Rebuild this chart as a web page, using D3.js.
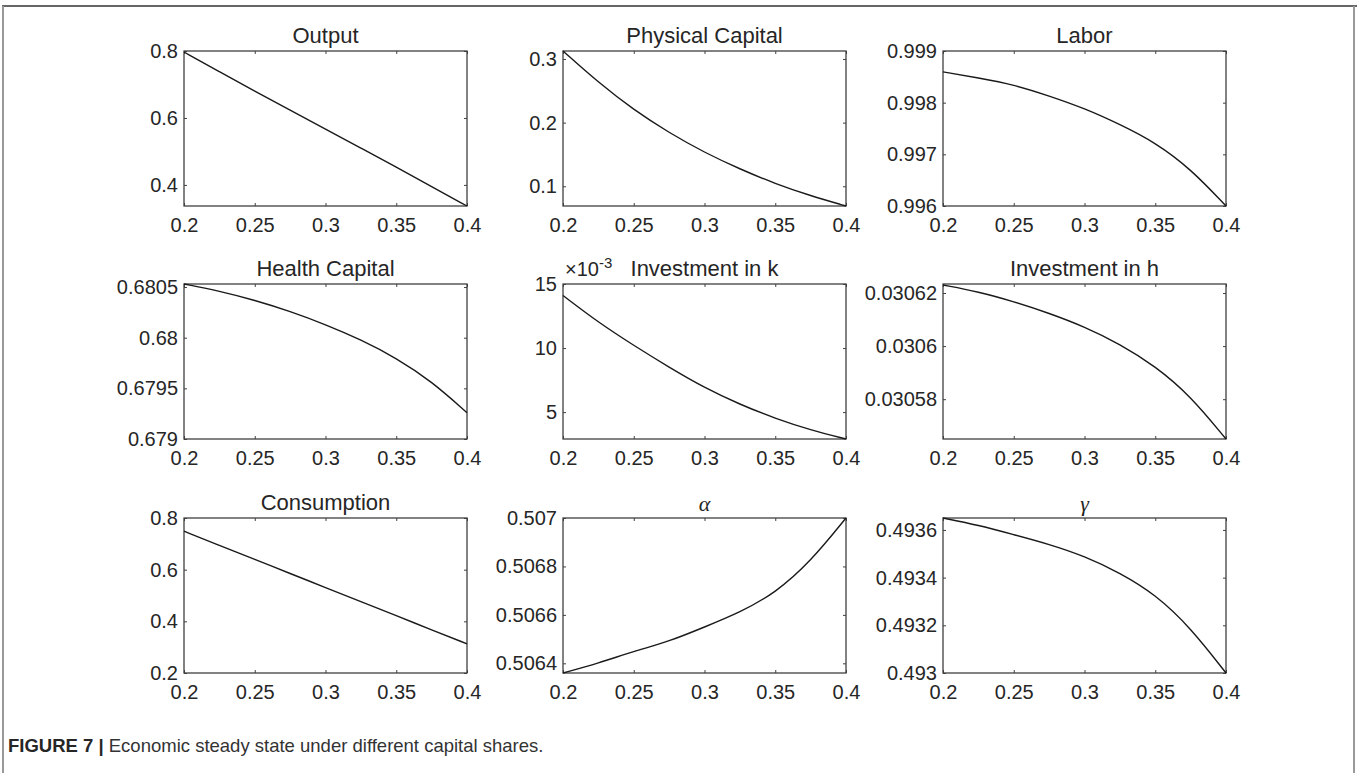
<!DOCTYPE html>
<meta charset="utf-8">
<script src="https://cdn.jsdelivr.net/npm/d3@7"></script>
<style>
  body { margin: 0; background: #fff; }
  text { font-family: "Liberation Sans", Arial, sans-serif; fill: #262626; }
</style>
<body>
<script>
// x values shared by every panel (capital share)
var xs = [0.2, 0.225, 0.25, 0.275, 0.3, 0.325, 0.35, 0.375, 0.4];
var xTicks = [0.2, 0.25, 0.3, 0.35, 0.4];
var xLabels = ["0.2", "0.25", "0.3", "0.35", "0.4"];

var titles = ["Output", "Physical Capital", "Labor", "Health Capital", "Investment in k",
              "Investment in h", "Consumption", "\u03b1", "\u03b3"];

// series
var output   = [0.797, 0.738, 0.680, 0.623, 0.567, 0.510, 0.453, 0.395, 0.337];
var physical = [0.3125, 0.263, 0.220, 0.184, 0.153, 0.127, 0.104, 0.085, 0.069];
var labor    = [0.998596, 0.99848, 0.99835, 0.99813, 0.99789, 0.99758, 0.99723, 0.99672, 0.99600];
var health   = [0.68053, 0.68046, 0.68037, 0.68026, 0.68013, 0.67998, 0.67980, 0.67957, 0.67926];
var invK     = [14.1, 12.0, 10.2, 8.5, 6.9, 5.6, 4.5, 3.6, 2.9];   // x 10^-3
var invH     = [0.030623, 0.0306205, 0.0306168, 0.0306124, 0.0306073, 0.0306008, 0.0305925, 0.0305812, 0.030565];
var consump  = [0.749, 0.694, 0.640, 0.585, 0.531, 0.476, 0.422, 0.367, 0.313];
var alpha    = [0.50636, 0.50640, 0.50645, 0.50649, 0.50655, 0.50661, 0.50669, 0.50682, 0.50700];
var gamma    = [0.49365, 0.49362, 0.49358, 0.49354, 0.49349, 0.49342, 0.49333, 0.49319, 0.49300];

var series = [output, physical, labor, health, invK, invH, consump, alpha, gamma];

// y limits and ticks
var yDomains = [[0.337, 0.8], [0.069, 0.3125], [0.996, 0.999], [0.679, 0.68053], [2.9, 15],
                [0.030565, 0.0306234], [0.2, 0.8], [0.50636, 0.507], [0.493, 0.49365]];
var yTicks = [[0.4, 0.6, 0.8], [0.1, 0.2, 0.3], [0.996, 0.997, 0.998, 0.999],
              [0.679, 0.6795, 0.68, 0.6805], [5, 10, 15], [0.03058, 0.0306, 0.03062],
              [0.2, 0.4, 0.6, 0.8], [0.5064, 0.5066, 0.5068, 0.507], [0.493, 0.4932, 0.4934, 0.4936]];
var yLabels = [["0.4", "0.6", "0.8"], ["0.1", "0.2", "0.3"], ["0.996", "0.997", "0.998", "0.999"],
               ["0.679", "0.6795", "0.68", "0.6805"], ["5", "10", "15"], ["0.03058", "0.0306", "0.03062"],
               ["0.2", "0.4", "0.6", "0.8"], ["0.5064", "0.5066", "0.5068", "0.507"],
               ["0.493", "0.4932", "0.4934", "0.4936"]];

var W = 1357, H = 773;
var colLeft = [184, 563, 943], rowTop = [51, 284, 518];
var pw = 283, ph = 155;

var svg = d3.select("body").append("svg").attr("width", W).attr("height", H);

// page frame
svg.append("line").attr("x1", 2).attr("x2", W).attr("y1", 6).attr("y2", 6)
  .attr("stroke", "#333").attr("stroke-width", 1.5);
svg.append("line").attr("x1", 3).attr("x2", 3).attr("y1", 6).attr("y2", H)
  .attr("stroke", "#999").attr("stroke-width", 2);
svg.append("line").attr("x1", 1354).attr("x2", 1354).attr("y1", 6).attr("y2", H)
  .attr("stroke", "#999").attr("stroke-width", 2);

series.forEach(function (vals, i) {
  var g = svg.append("g")
    .attr("transform", "translate(" + colLeft[i % 3] + "," + rowTop[Math.floor(i / 3)] + ")");
  var x = d3.scaleLinear().domain([0.2, 0.4]).range([0, pw]);
  var y = d3.scaleLinear().domain(yDomains[i]).range([ph, 0]);

  var bottom = d3.axisBottom(x).tickValues(xTicks).tickFormat(function (d, j) { return xLabels[j]; })
    .tickSizeInner(-3).tickSizeOuter(0).tickPadding(12);
  var left = d3.axisLeft(y).tickValues(yTicks[i]).tickFormat(function (d, j) { return yLabels[i][j]; })
    .tickSizeInner(-3).tickSizeOuter(0).tickPadding(6);
  var top = d3.axisTop(x).tickValues(xTicks).tickFormat("").tickSizeInner(-3).tickSizeOuter(0);
  var right = d3.axisRight(y).tickValues(yTicks[i]).tickFormat("").tickSizeInner(-3).tickSizeOuter(0);

  var ax = [
    g.append("g").attr("transform", "translate(0," + ph + ")").call(bottom),
    g.append("g").call(left),
    g.append("g").call(top),
    g.append("g").attr("transform", "translate(" + pw + ",0)").call(right)
  ];
  ax.forEach(function (a) {
    a.select(".domain").remove();
    a.selectAll(".tick line").attr("stroke", "#404040").attr("stroke-width", 1);
    a.selectAll(".tick text").style("font-size", "20px").attr("fill", "#262626")
      .style("font-family", "'Liberation Sans', Arial, sans-serif");
  });

  g.append("rect").attr("width", pw).attr("height", ph)
    .attr("fill", "none").attr("stroke", "#404040").attr("stroke-width", 1.3);

  var line = d3.line()
    .x(function (d, j) { return x(xs[j]); })
    .y(function (d) { return y(d); })
    .curve(d3.curveBasis);
  g.append("path").datum(vals).attr("d", line)
    .attr("fill", "none").attr("stroke", "#1a1a1a").attr("stroke-width", 1.4);

  var greek = i >= 7;
  var t = g.append("text").attr("x", pw / 2).attr("y", greek ? -7 : -8)
    .attr("text-anchor", "middle").text(titles[i]);
  if (greek) {
    t.style("font-family", "'Liberation Serif', 'Times New Roman', serif")
      .style("font-style", "italic").style("font-size", "22px");
  } else {
    t.style("font-size", "22px");
  }

  if (i === 4) {
    var e = g.append("text").attr("x", 2).attr("y", -8).style("font-size", "20px");
    e.append("tspan").text("\u00d710");
    e.append("tspan").attr("dy", -8).style("font-size", "15px").text("-3");
  }
});

// caption
var cap = svg.append("text").attr("x", 8).attr("y", 752).style("font-size", "18.5px");
cap.append("tspan").style("font-weight", "bold").text("FIGURE 7 | ");
cap.append("tspan").attr("fill", "#333").text("Economic steady state under different capital shares.");
</script>
</body>
